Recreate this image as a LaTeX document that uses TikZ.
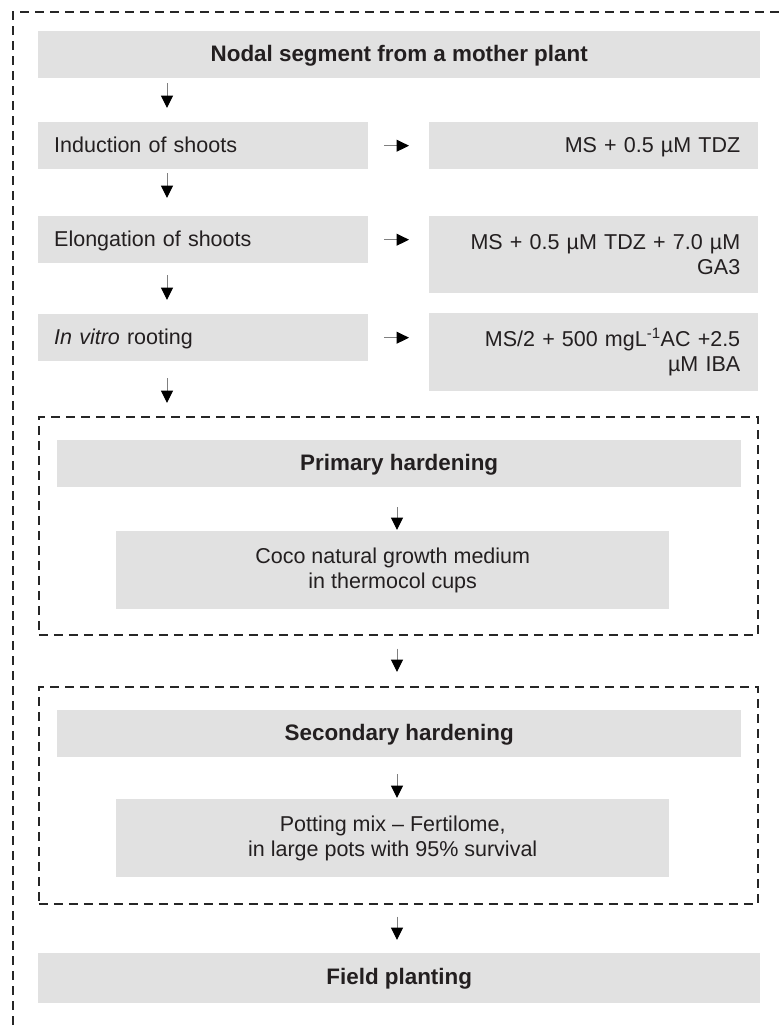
\documentclass[tikz,border=0pt]{standalone}
\usepackage{fontspec}
\setmainfont{Liberation Sans}
\usetikzlibrary{arrows.meta}

\definecolor{boxgray}{RGB}{225,225,225}
\definecolor{txt}{RGB}{35,31,32}

\tikzset{
  box/.style={fill=boxgray, text=txt, inner ysep=0pt, minimum height=47pt,
    anchor=north west, font=\fontsize{21.5}{25}\selectfont},
  oneline/.style={text height=16pt, text depth=3pt},
  bbox/.style={box, oneline, align=center, font=\fontsize{22.4}{26}\selectfont\bfseries},
  lbox/.style={box, oneline, inner xsep=16pt, text width=298pt, align=left},
  rbox/.style={box, inner xsep=18pt, text width=293pt, align=right},
  mbox/.style={box, minimum width=553pt, minimum height=78pt, align=center},
  frame/.style={draw=black!85, line width=1.6pt, dash pattern=on 9pt off 6pt},
  arr/.style={draw=black!50, line width=1pt,
    -{Triangle[length=12.5pt,width=12pt,color=black]}}
}

\begin{document}
\begin{tikzpicture}[x=1pt, y=-1pt]
    \useasboundingbox (0,0) rectangle (780,1028);

    % Outer frame
    \draw[frame] (13,1040) -- (13,12) -- (790,12);

    % Arrow columns
    \coordinate (lx) at (167,0);
    \coordinate (mx) at (397,0);

    % Source
    \node[bbox, minimum width=722pt] (nodal) at (38,31) {Nodal segment from a mother plant};

    % In vitro steps
    \node[lbox] (ind) at (38,122) {Induction of shoots};
    \node[rbox, oneline] (ms1) at (429,122) {MS + 0.5 µM TDZ};

    \node[lbox] (elo) at (38,216) {Elongation of shoots};
    \node[rbox, minimum height=77pt] (ms2) at (429,216) {MS + 0.5 µM TDZ + 7.0 µM\\GA3};

    \node[lbox] (roo) at (38,314) {\textit{In vitro} rooting};
    \node[rbox, minimum height=78pt] (ms3) at (429,313)
        {MS/2 + 500 mgL\textsuperscript{-1}AC +2.5\\µM IBA};

    % Primary hardening
    \node[frame, anchor=north west, minimum width=719pt, minimum height=218pt] (prim) at (38,416) {};
    \node[bbox, minimum width=684pt] (ph) at (57,440) {Primary hardening};
    \node[mbox] (coco) at (116,531) {Coco natural growth medium\\in thermocol cups};

    % Secondary hardening
    \node[frame, anchor=north west, minimum width=719pt, minimum height=217pt] (sec) at (38,686) {};
    \node[bbox, minimum width=684pt] (sh) at (57,710) {Secondary hardening};
    \node[mbox] (pot) at (116,799) {Potting mix – Fertilome,\\in large pots with 95\% survival};

    % Field
    \node[bbox, minimum width=722pt, minimum height=50pt] (field) at (38,953) {Field planting};

    % Arrows, left column
    \draw[arr, shorten <=5pt, shorten >=14pt] (nodal.south -| lx) -- (ind.north -| lx);
    \draw[arr, shorten <=4pt, shorten >=18pt] (ind.south -| lx) -- (elo.north -| lx);
    \draw[arr, shorten <=12pt, shorten >=14pt] (elo.south -| lx) -- (roo.north -| lx);
    \draw[arr, shorten <=17pt, shorten >=13pt] (roo.south -| lx) -- (prim.north -| lx);

    % Arrows to media
    \draw[arr, shorten <=16pt, shorten >=20pt] (ind.east) -- (ind.east -| ms1.west);
    \draw[arr, shorten <=16pt, shorten >=20pt] (elo.east) -- (elo.east -| ms2.west);
    \draw[arr, shorten <=16pt, shorten >=20pt] (roo.east) -- (roo.east -| ms3.west);

    % Arrows, middle column
    \draw[arr, shorten <=20pt, shorten >=1pt] (ph.south -| mx) -- (coco.north -| mx);
    \draw[arr, shorten <=13pt, shorten >=14pt] (prim.south -| mx) -- (sec.north -| mx);
    \draw[arr, shorten <=17pt, shorten >=1pt] (sh.south -| mx) -- (pot.north -| mx);
    \draw[arr, shorten <=12pt, shorten >=13pt] (sec.south -| mx) -- (field.north -| mx);
\end{tikzpicture}
\end{document}
